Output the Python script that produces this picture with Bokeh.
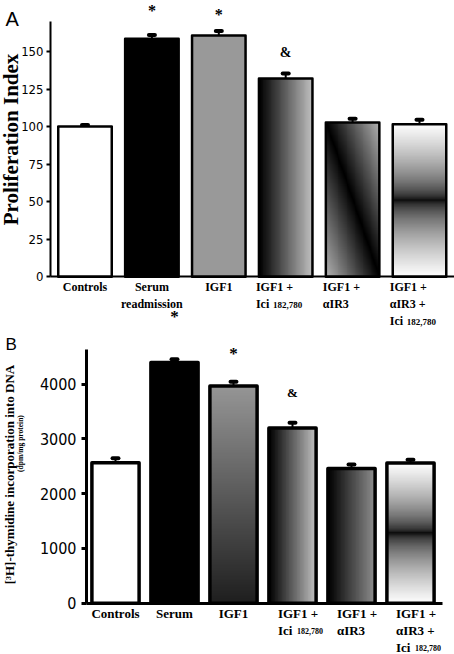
import numpy as np
from bokeh.plotting import figure
from bokeh.models import Range1d, LinearAxis, FixedTicker, ColumnDataSource
from bokeh.core.properties import value
from bokeh.embed import file_html
from bokeh.resources import INLINE

# ---------------- data ----------------
# Panel A : proliferation index
cats_a = ["Controls", "Serum\nreadmission", "IGF1", "IGF1 +\nIci 182,780",
          "IGF1 +\nαIR3", "IGF1 +\nαIR3  +\nIci 182,780"]
prolif = [100, 158.5, 160.6, 132, 102.7, 101.6]
prolif_err = [1.0, 2.5, 3.0, 3.3, 2.5, 3.0]
ticks_a = [0, 25, 50, 75, 100, 125, 150]
marks_a = ["", "*", "*", "&", "", ""]

# Panel B : [3H]-thymidine incorporation into DNA (dpm/mg protein)
cats_b = ["Controls", "Serum", "IGF1", "IGF1 +\nIci182,780",
          "IGF1 +\nαIR3", "IGF1 +\nαIR3  +\nIci 182,780"]
thym = [2564, 4392, 3964, 3197, 2458, 2558]
thym_err = [80, 60, 75, 95, 73, 58]
ticks_b = [0, 1000, 2000, 3000, 4000]
marks_b = ["", "*", "*", "&", "", ""]

# ---------------- styles ----------------
fills_a = ["white", "black", "#999999", "hgrad", "diag", "vmid"]
fills_b = ["white", "black", "vgrad", "hgrad", "hgrad2", "vmid"]
gaps_a = [0, 24, 17, 21, 0, 0]
gaps_b = [0, 43, 28, 30, 0, 0]
GRADS = {"hgrad", "hgrad2", "vgrad", "diag", "vmid"}
SERIF = "Liberation Serif"
TICKFONT = "DejaVu Sans Condensed"


def gradient(kind, nx=60, ny=260):
    u = np.linspace(0, 1, nx)[None, :]
    v = np.linspace(0, 1, ny)[:, None]  # row 0 = bottom
    if kind == "hgrad":
        g = 0.76 * u + 0 * v
    elif kind == "hgrad2":
        g = 0.56 * u + 0 * v
    elif kind == "vgrad":
        g = 0.12 + 0.47 * v + 0 * u
    elif kind == "diag":
        g = 0.70 * np.abs(u + v - 1)
    else:  # vmid
        g = np.abs(2 * v - 1) ** 0.55 + 0 * u
    c = (np.clip(g, 0, 1) * 255).astype(np.uint32)
    return (np.uint32(255) << 24) | (c << 16) | (c << 8) | c


p = figure(width=454, height=654, x_range=Range1d(-1.2631, 5.5232),
           y_range=Range1d(-251.5, 183.95), x_axis_location=None, y_axis_location=None,
           output_backend="svg", toolbar_location=None, min_border=0)
p.extra_x_ranges = {"xb": Range1d(-1.9492, 5.7458)}
p.extra_y_ranges = {"yb": Range1d(-936, 10998)}
p.outline_line_color = None
p.grid.visible = False


def draw_panel(cats, vals, errs, ticks, marks, gaps, fills, st):
    rn = dict(x_range_name=st["xn"], y_range_name=st["yn"])
    xs = np.arange(len(cats), dtype=float)
    vals = np.array(vals, dtype=float)
    hi = vals + np.array(errs, dtype=float)
    w = st["bw"]

    for i, f in enumerate(fills):
        if f in GRADS:
            p.image_rgba(image=[gradient(f)], x=xs[i] - w / 2, y=0, dw=w, dh=vals[i], **rn)

    src = ColumnDataSource(dict(
        x=xs, top=vals,
        fill=[("white" if f in GRADS else f) for f in fills],
        alpha=[(0 if f in GRADS else 1) for f in fills]))
    p.vbar(x="x", top="top", bottom=0, width=w, fill_color="fill",
           fill_alpha="alpha", line_color="black", line_width=st["lw"],
           line_join="round", source=src, **rn)

    # error bars (upper only)
    p.segment(x0=xs, y0=vals, x1=xs, y1=hi, line_color="black", line_width=2, **rn)
    p.segment(x0=xs - st["cap"], y0=hi, x1=xs + st["cap"], y1=hi,
              line_color="black", line_width=4, line_cap="round", **rn)

    # significance marks
    for sym, fs in (("*", st["star_fs"]), ("&", st["amp_fs"])):
        idx = [i for i, m in enumerate(marks) if m == sym]
        if idx:
            p.text(x=xs[idx], y=hi[idx], text=[sym] * len(idx),
                   y_offset=[-gaps[i] for i in idx], text_align="center",
                   text_baseline="middle", text_font=value(SERIF),
                   text_font_style="bold", text_font_size=fs, text_color="black", **rn)

    # category labels
    groups = {"center": dict(x=[], text=[], xo=[], yo=[]),
              "left": dict(x=[], text=[], xo=[], yo=[]),
              "small": dict(x=[], text=[], xo=[], yo=[])}
    for i, c in enumerate(cats):
        multi = "+" in c
        for j, line in enumerate(c.split("\n")):
            yo = st["l0"] + j * st["ldy"]
            if multi:
                xa, xo, key = xs[i] - w / 2, st["ldx"], "left"
            else:
                xa, xo, key = xs[i], 0, "center"
            g = groups[key]
            if line.startswith("Ici"):
                g["x"].append(xa); g["text"].append("Ici"); g["xo"].append(xo); g["yo"].append(yo)
                gs = groups["small"]
                gs["x"].append(xa); gs["text"].append(line[3:].strip())
                gs["xo"].append(xo + st["ici_w"]); gs["yo"].append(yo + 1)
            else:
                g["x"].append(xa); g["text"].append(line); g["xo"].append(xo); g["yo"].append(yo)
    for key, g in groups.items():
        if g["x"]:
            p.text(x=g["x"], y=[0] * len(g["x"]), text=g["text"], x_offset=g["xo"],
                   y_offset=g["yo"], text_align=("center" if key == "center" else "left"),
                   text_baseline="middle", text_font=value(SERIF), text_font_style="bold",
                   text_font_size=(st["small_fs"] if key == "small" else st["lab_fs"]),
                   text_color="black", **rn)

    # y axis (drawn at a fixed x location) and baseline axis
    yax = LinearAxis(fixed_location=st["ax_x"], bounds=(0, st["ytop"]),
                     ticker=FixedTicker(ticks=ticks, minor_ticks=[]), **rn)
    yax.axis_line_width = st["alw"]
    yax.axis_line_color = "black"
    yax.major_tick_line_width = st["alw"]
    yax.major_tick_line_color = "black"
    yax.major_tick_out = st["tick_out"]
    yax.major_tick_in = 0
    yax.minor_tick_out = 0
    yax.minor_tick_in = 0
    yax.major_label_standoff = st["lab_so"]
    yax.major_label_text_font = TICKFONT
    yax.major_label_text_font_size = st["tick_fs"]
    yax.major_label_text_color = "black"
    p.add_layout(yax, "left")

    xax = LinearAxis(fixed_location=0, bounds=(st["ax_x"], st["base_end"]),
                     ticker=FixedTicker(ticks=[], minor_ticks=[]), **rn)
    xax.axis_line_width = st["alw"]
    xax.axis_line_color = "black"
    xax.major_tick_out = 0
    xax.major_tick_in = 0
    xax.minor_tick_out = 0
    xax.minor_tick_in = 0
    p.add_layout(xax, "below")


st_a = dict(xn="default", yn="default", bw=0.8, lw=2.5, alw=2, cap=0.045,
            star_fs="16px", amp_fs="14px", l0=10, ldy=17, ldx=-3, ici_w=17,
            lab_fs="12px", small_fs="9px", ytop=170, lab_so=3, tick_fs="13px",
            tick_out=4, ax_x=-0.5157, base_end=5.5232)
st_b = dict(xn="xb", yn="yb", bw=0.8, lw=3.5, alw=3, cap=0.05,
            star_fs="17px", amp_fs="13px", l0=10, ldy=17, ldx=9, ici_w=19,
            lab_fs="13px", small_fs="8px", ytop=4624, lab_so=5, tick_fs="16px",
            tick_out=5, ax_x=-0.4915, base_end=5.5424)

draw_panel(cats_a, prolif, prolif_err, ticks_a, marks_a, gaps_a, fills_a, st_a)
draw_panel(cats_b, thym, thym_err, ticks_b, marks_b, gaps_b, fills_b, st_b)

# axis titles and panel letters
p.text(x=[-1.0987], y=[91.4], text=["Proliferation Index"], angle=np.pi / 2,
       text_align="center", text_baseline="alphabetic", text_font=value(SERIF),
       text_font_style="bold", text_font_size="21px", text_color="black")
p.text(x=[-1.188], y=[171.3], text=["A"], text_align="left", text_baseline="alphabetic",
       text_font=value("Liberation Sans"), text_font_size="20px", text_color="black")

p.text(x=[-1.7966], y=[2349], text=["[³H]-thymidine incorporation into DNA"],
       angle=np.pi / 2, text_align="center", text_baseline="alphabetic",
       text_font=value(SERIF), text_font_style="bold", text_font_size="13px",
       text_color="black", x_range_name="xb", y_range_name="yb")
p.text(x=[-1.6186], y=[2914], text=["(dpm/mg protein)"], angle=np.pi / 2,
       text_align="center", text_baseline="alphabetic", text_font=value(SERIF),
       text_font_style="bold", text_font_size="7.5px", text_color="black",
       x_range_name="xb", y_range_name="yb")
p.text(x=[-1.864], y=[4721], text=["B"], text_align="left", text_baseline="alphabetic",
       text_font=value("Liberation Sans"), text_font_size="17px", text_color="black",
       x_range_name="xb", y_range_name="yb")

open("out.html", "w").write(file_html(p, INLINE))
